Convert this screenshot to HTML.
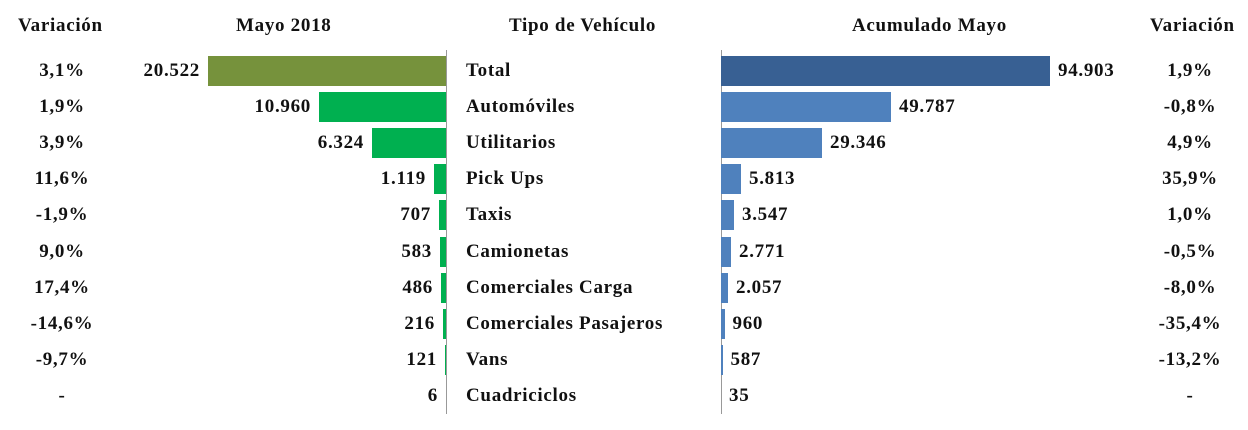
<!DOCTYPE html>
<html><head><meta charset="utf-8"><style>
body{margin:0;width:1248px;height:430px;background:#fff;position:relative;overflow:hidden;font-family:"Liberation Serif",serif;font-weight:bold;font-size:19px;letter-spacing:0.7px;color:#111}
.t{position:absolute;line-height:30px;white-space:nowrap}
.b{position:absolute;height:30px}
.ax{position:absolute;width:1px;background:#999;top:50px;height:364px}
</style></head><body>
<div class="t" style="left:18px;top:11px">Variación</div>
<div class="t" style="left:236px;top:11px">Mayo 2018</div>
<div class="t" style="left:509px;top:11px">Tipo de Vehículo</div>
<div class="t" style="left:852px;top:11px">Acumulado Mayo</div>
<div class="t" style="left:1150px;top:11px">Variación</div>
<div class="ax" style="left:446px"></div>
<div class="ax" style="left:721px"></div>
<div id="c"></div>
<script>
var d=[["3,1%","20.522",208,"Total",1050,"94.903","1,9%"],
["1,9%","10.960",319,"Automóviles",891,"49.787","-0,8%"],
["3,9%","6.324",372,"Utilitarios",822,"29.346","4,9%"],
["11,6%","1.119",434,"Pick Ups",741,"5.813","35,9%"],
["-1,9%","707",439,"Taxis",734,"3.547","1,0%"],
["9,0%","583",440,"Camionetas",731,"2.771","-0,5%"],
["17,4%","486",441,"Comerciales Carga",728,"2.057","-8,0%"],
["-14,6%","216",443,"Comerciales Pasajeros",724.5,"960","-35,4%"],
["-9,7%","121",445,"Vans",722.5,"587","-13,2%"],
["-","6",446,"Cuadriciclos",721,"35","-"]];
var h="";
d.forEach(function(r,i){var y=55.5+36.2*i;
h+='<div class="t" style="left:0;width:124px;text-align:center;top:'+y+'px">'+r[0]+'</div>';
h+='<div class="b" style="left:'+r[2]+'px;width:'+(446-r[2])+'px;top:'+y+'px;background:'+(i?"#00B050":"#76923C")+'"></div>';
h+='<div class="t" style="right:'+(1248-r[2]+8)+'px;top:'+y+'px">'+r[1]+'</div>';
h+='<div class="t" style="left:466px;top:'+y+'px">'+r[3]+'</div>';
h+='<div class="b" style="left:721px;width:'+(r[4]-721)+'px;top:'+y+'px;background:'+(i?"#4F81BD":"#386093")+'"></div>';
h+='<div class="t" style="left:'+(r[4]+8)+'px;top:'+y+'px">'+r[5]+'</div>';
h+='<div class="t" style="left:1128px;width:124px;text-align:center;top:'+y+'px">'+r[6]+'</div>';});
document.getElementById("c").innerHTML=h;
</script>
</body></html>
